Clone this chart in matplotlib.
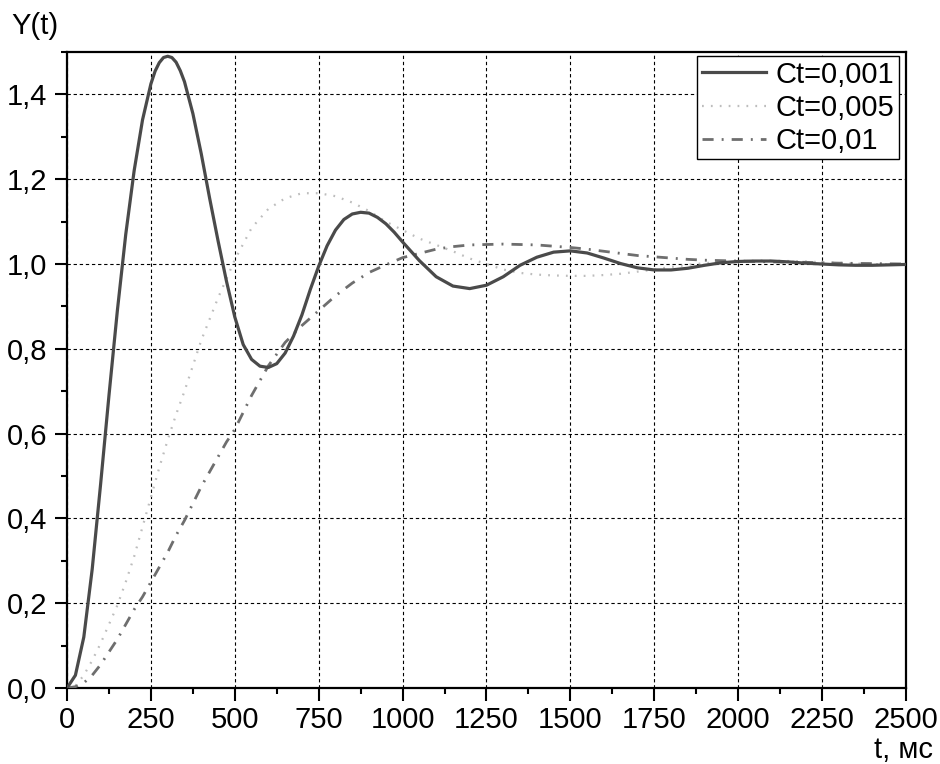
import matplotlib
matplotlib.use("Agg")
import matplotlib.pyplot as plt
from matplotlib.ticker import MultipleLocator, FuncFormatter

# time, ms
t_1 = [0, 25, 50, 75, 100, 125, 150, 175, 200, 225, 250, 262.5, 275, 287.5,
       300, 312.5, 325, 337.5, 350, 375, 400, 425, 450, 475, 500, 525, 550,
       575, 600, 625, 650, 675, 700, 725, 750, 775, 800, 825, 850, 875, 900,
       925, 950, 975, 1000, 1050, 1100, 1150, 1200, 1250, 1300, 1350, 1400,
       1450, 1500, 1550, 1600, 1650, 1700, 1750, 1800, 1850, 1900, 1950, 2000,
       2050, 2100, 2150, 2200, 2250, 2300, 2350, 2400, 2450, 2500]
# Ct=0,001
y_1 = [0.0, 0.03, 0.12, 0.28, 0.48, 0.69, 0.89, 1.07, 1.22, 1.34, 1.425,
       1.455, 1.475, 1.487, 1.49, 1.487, 1.476, 1.456, 1.43, 1.355, 1.26,
       1.155, 1.055, 0.96, 0.875, 0.81, 0.775, 0.759, 0.756, 0.765, 0.79,
       0.83, 0.88, 0.94, 0.995, 1.043, 1.08, 1.105, 1.118, 1.122, 1.12, 1.11,
       1.095, 1.075, 1.052, 1.008, 0.97, 0.948, 0.942, 0.95, 0.97, 0.997,
       1.016, 1.028, 1.031, 1.026, 1.014, 1.001, 0.991, 0.986, 0.986, 0.99,
       0.997, 1.003, 1.006, 1.007, 1.007, 1.005, 1.002, 1.0, 0.998, 0.997,
       0.997, 0.998, 0.999]

t_2 = [0, 25, 50, 75, 100, 125, 150, 175, 200, 225, 250, 275, 300, 325, 350,
       375, 400, 425, 450, 475, 500, 550, 600, 650, 700, 750, 800, 850, 900,
       950, 1000, 1050, 1100, 1150, 1200, 1250, 1300, 1350, 1400, 1450, 1500,
       1550, 1600, 1650, 1700, 1750, 1800, 1850, 1900, 1950, 2000, 2050, 2100,
       2150, 2200, 2250, 2300, 2350, 2400, 2450, 2500]
# Ct=0,005
y_2 = [0.0, 0.005, 0.03, 0.065, 0.105, 0.15, 0.195, 0.25, 0.31, 0.38, 0.45,
       0.52, 0.585, 0.645, 0.70, 0.76, 0.82, 0.87, 0.92, 0.965, 1.01, 1.085,
       1.13, 1.155, 1.167, 1.167, 1.16, 1.145, 1.125, 1.10, 1.08, 1.06, 1.045,
       1.03, 1.013, 1.0, 0.987, 0.979, 0.975, 0.973, 0.972, 0.972, 0.974,
       0.977, 0.982, 0.987, 0.993, 0.998, 1.002, 1.005, 1.007, 1.008, 1.008,
       1.007, 1.006, 1.004, 1.003, 1.001, 1.0, 0.999, 0.999]

t_3 = [0, 25, 50, 75, 100, 125, 150, 175, 200, 225, 250, 275, 300, 325, 350,
       375, 400, 425, 450, 475, 500, 550, 600, 650, 700, 750, 800, 850, 900,
       950, 1000, 1050, 1100, 1150, 1200, 1250, 1300, 1350, 1400, 1450, 1500,
       1550, 1600, 1650, 1700, 1750, 1800, 1850, 1900, 1950, 2000, 2100, 2200,
       2300, 2400, 2500]
# Ct=0,01
y_3 = [0.0, 0.003, 0.012, 0.03, 0.055, 0.085, 0.115, 0.15, 0.185, 0.215,
       0.25, 0.285, 0.32, 0.36, 0.395, 0.435, 0.475, 0.51, 0.545, 0.58, 0.61,
       0.69, 0.76, 0.815, 0.855, 0.89, 0.925, 0.955, 0.98, 0.998, 1.015,
       1.025, 1.035, 1.041, 1.045, 1.046, 1.047, 1.046, 1.045, 1.042, 1.039,
       1.035, 1.03, 1.025, 1.02, 1.017, 1.014, 1.011, 1.009, 1.008, 1.007,
       1.005, 1.004, 1.002, 1.001, 1.0]

labels = ["Ct=0,001", "Ct=0,005", "Ct=0,01"]

plt.rcParams['font.family'] = ['Liberation Sans', 'DejaVu Sans']
plt.rcParams['font.size'] = 21

fig = plt.figure(figsize=(9.4, 7.64), dpi=100)
ax = fig.add_axes([0.0713, 0.0995, 0.8925, 0.8324])

ax.plot(t_1, y_1, color='#4a4a4a', lw=2.3, ls='-', label=labels[0], zorder=4)
ax.plot(t_2, y_2, color='#bdbdbd', lw=1.6, ls=(0, (0.8, 3.2)), label=labels[1], zorder=3)
ax.plot(t_3, y_3, color='#6e6e6e', lw=2.0, ls=(0, (4, 2.9, 0.7, 2.9)), label=labels[2], zorder=3)

ax.set_xlim(0, 2500)
ax.set_ylim(0, 1.5)
ax.xaxis.set_major_locator(MultipleLocator(250))
ax.xaxis.set_minor_locator(MultipleLocator(125))
ax.yaxis.set_major_locator(MultipleLocator(0.2))
ax.yaxis.set_minor_locator(MultipleLocator(0.1))
ax.yaxis.set_major_formatter(FuncFormatter(lambda v, p: f"{v:.1f}".replace(".", ",")))

ax.tick_params(which='major', direction='out', length=9, width=1.5, pad=4)
ax.tick_params(which='minor', direction='out', length=4.5, width=1.5)
ax.tick_params(axis='y', which='major', pad=5)
for s in ax.spines.values():
    s.set_linewidth(1.6)

ax.grid(True, which='major', color='black', ls=(0, (3, 2.5)), lw=0.8)
ax.set_axisbelow(True)

fig.text(0.012, 0.948, "Y(t)", ha='left', va='bottom')
fig.text(0.993, 0.0, "t, мс", ha='right', va='bottom')

leg = ax.legend(loc='upper right', bbox_to_anchor=(0.9917, 0.9935), frameon=True,
                fancybox=False, edgecolor='black', framealpha=1, borderpad=0.15,
                handlelength=2.2, handletextpad=0.35, labelspacing=0.18,
                borderaxespad=0)
leg.get_frame().set_linewidth(1.0)

fig.savefig("out.png", dpi=100)
plt.close()
